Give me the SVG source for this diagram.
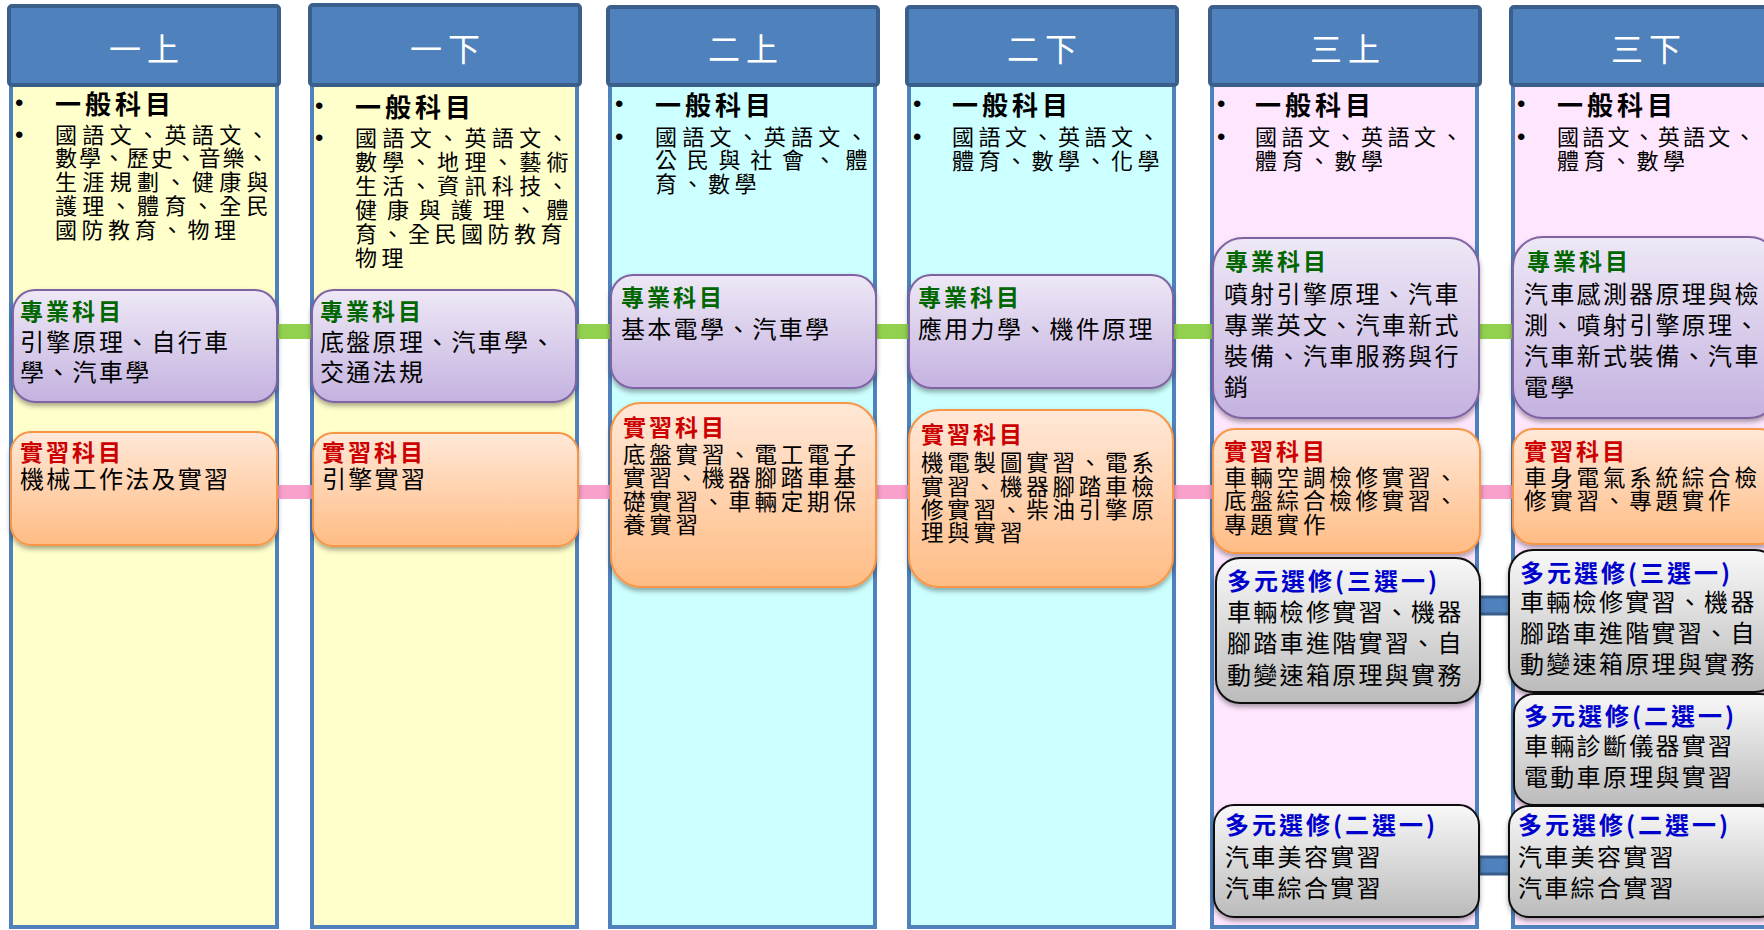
<svg xmlns="http://www.w3.org/2000/svg" width="1764" height="930" viewBox="0 0 1764 930">
<style>
text{font-family:"Noto Sans CJK TC","Noto Sans CJK SC",sans-serif;}
.hd{fill:#4F81BD;stroke:#3A5F8B;stroke-width:4}
.ht{fill:#fff;font-size:32px;letter-spacing:6px;text-anchor:middle}
.body{stroke:#4F81BD;stroke-width:4}
.y{fill:#FFFFCC}.c{fill:#CCFFFF}.p{fill:#FFE6FF}
.bul{font-family:"Liberation Sans",sans-serif;font-size:24px;fill:#000}
.gh{font-size:26px;font-weight:bold;letter-spacing:4px;fill:#000}
.gt{font-size:22px;letter-spacing:4.5px;fill:#000}
.pb{fill:url(#gp);stroke:#8064A2;stroke-width:2}
.ob{fill:url(#go);stroke:#F79646;stroke-width:2}
.xb{fill:url(#gg);stroke:#111;stroke-width:2}
.tg{font-size:23px;font-weight:bold;letter-spacing:3px;fill:#006600}
.tr{font-size:23px;font-weight:bold;letter-spacing:3px;fill:#CC0000}
.tb{font-size:24px;font-weight:bold;letter-spacing:3px;fill:#0000CC}
.bt{font-size:24px;letter-spacing:2.3px;fill:#000}
.bs{font-size:22.5px;letter-spacing:3.8px;fill:#000}
.cg{fill:#92D050}.cp{fill:#F9A0CB}.cb{fill:#4F81BD;stroke:#385D8A;stroke-width:3}
</style>
<defs>
<linearGradient id="gp" x1="0" y1="0" x2="0" y2="1"><stop offset="0" stop-color="#EEE8F6"/><stop offset="1" stop-color="#C4B2E0"/></linearGradient>
<linearGradient id="go" x1="0" y1="0" x2="0" y2="1"><stop offset="0" stop-color="#FFE8D8"/><stop offset="1" stop-color="#FFBC84"/></linearGradient>
<linearGradient id="gg" x1="0" y1="0" x2="0" y2="1"><stop offset="0" stop-color="#F8F8F8"/><stop offset="1" stop-color="#BBBBBB"/></linearGradient>
<filter id="sh" x="-10%" y="-10%" width="120%" height="130%"><feDropShadow dx="0" dy="3" stdDeviation="2.5" flood-color="#000" flood-opacity="0.35"/></filter>
</defs>
<rect width="1764" height="930" fill="#fff"/>

<g id="col1">
<rect class="body y" x="11" y="85" width="266" height="842"/>
<rect class="hd" x="9" y="6" width="270" height="79" rx="3"/>
<text class="ht" x="147" y="61">一上</text>
<text class="bul" x="15" y="111">•</text>
<text class="gh" x="55" y="114">一般科目</text>
<text class="bul" x="15" y="143">•</text>
<text class="gt" x="55" y="143" textLength="218" lengthAdjust="spacing">國語文、英語文、</text>
<text class="gt" x="55" y="166" textLength="218" lengthAdjust="spacing">數學、歷史、音樂、</text>
<text class="gt" x="55" y="190" textLength="218" lengthAdjust="spacing">生涯規劃、健康與</text>
<text class="gt" x="55" y="214" textLength="218" lengthAdjust="spacing">護理、體育、全民</text>
<text class="gt" x="55" y="238">國防教育、物理</text>
</g>

<g id="col2">
<rect class="body y" x="312" y="85" width="265" height="842"/>
<rect class="hd" x="310" y="5" width="270" height="80" rx="3"/>
<text class="ht" x="448" y="61">一下</text>
<text class="bul" x="315" y="114">•</text>
<text class="gh" x="355" y="117">一般科目</text>
<text class="bul" x="315" y="146">•</text>
<text class="gt" x="355" y="146" textLength="218" lengthAdjust="spacing">國語文、英語文、</text>
<text class="gt" x="355" y="170" textLength="218" lengthAdjust="spacing">數學、地理、藝術</text>
<text class="gt" x="355" y="194" textLength="218" lengthAdjust="spacing">生活、資訊科技、</text>
<text class="gt" x="355" y="218" textLength="218" lengthAdjust="spacing">健康與護理、體</text>
<text class="gt" x="355" y="242">育、全民國防教育</text>
<text class="gt" x="355" y="266">物理</text>
</g>

<g id="col3">
<rect class="body c" x="610" y="85" width="265" height="842"/>
<rect class="hd" x="608" y="7" width="270" height="78" rx="3"/>
<text class="ht" x="746" y="61">二上</text>
<text class="bul" x="615" y="112">•</text>
<text class="gh" x="655" y="115">一般科目</text>
<text class="bul" x="615" y="145">•</text>
<text class="gt" x="655" y="145" textLength="217" lengthAdjust="spacing">國語文、英語文、</text>
<text class="gt" x="655" y="168" textLength="217" lengthAdjust="spacing">公民與社會、體</text>
<text class="gt" x="655" y="192">育、數學</text>
</g>

<g id="col4">
<rect class="body c" x="909" y="85" width="265" height="842"/>
<rect class="hd" x="907" y="7" width="270" height="78" rx="3"/>
<text class="ht" x="1045" y="61">二下</text>
<text class="bul" x="913" y="112">•</text>
<text class="gh" x="952" y="115">一般科目</text>
<text class="bul" x="913" y="145">•</text>
<text class="gt" x="952" y="145">國語文、英語文、</text>
<text class="gt" x="952" y="169">體育、數學、化學</text>
</g>

<g id="col5">
<rect class="body p" x="1212" y="85" width="265" height="842"/>
<rect class="hd" x="1210" y="7" width="270" height="78" rx="3"/>
<text class="ht" x="1348" y="61">三上</text>
<text class="bul" x="1217" y="112">•</text>
<text class="gh" x="1255" y="115">一般科目</text>
<text class="bul" x="1217" y="145">•</text>
<text class="gt" x="1255" y="145">國語文、英語文、</text>
<text class="gt" x="1255" y="169">體育、數學</text>
</g>

<g id="col6">
<rect class="body p" x="1513" y="85" width="266" height="842"/>
<rect class="hd" x="1511" y="7" width="270" height="78" rx="3"/>
<text class="ht" x="1649" y="61">三下</text>
<text class="bul" x="1517" y="112">•</text>
<text class="gh" x="1557" y="115">一般科目</text>
<text class="bul" x="1517" y="145">•</text>
<text class="gt" x="1557" y="145" textLength="203" lengthAdjust="spacing">國語文、英語文、</text>
<text class="gt" x="1557" y="169">體育、數學</text>
</g>

<g id="connectors">
<rect class="cg" x="276" y="324" width="37" height="15"/>
<rect class="cg" x="575" y="324" width="37" height="15"/>
<rect class="cg" x="875" y="324" width="35" height="15"/>
<rect class="cg" x="1172" y="324" width="42" height="15"/>
<rect class="cg" x="1478" y="324" width="36" height="15"/>
<rect class="cp" x="276" y="485" width="38" height="14"/>
<rect class="cp" x="577" y="485" width="35" height="14"/>
<rect class="cp" x="875" y="485" width="35" height="14"/>
<rect class="cp" x="1172" y="485" width="42" height="14"/>
<rect class="cp" x="1479" y="485" width="35" height="14"/>
<rect class="cb" x="1479" y="597" width="31" height="17"/>
<rect class="cb" x="1479" y="857" width="31" height="17"/>
</g>

<g id="p1"><rect class="pb" filter="url(#sh)" x="13" y="290" width="264" height="112" rx="22"/>
<text class="tg" x="20" y="320">專業科目</text>
<text class="bt" x="20" y="351">引擎原理、自行車</text>
<text class="bt" x="20" y="381">學、汽車學</text></g>
<g id="o1"><rect class="ob" filter="url(#sh)" x="11" y="432" width="266" height="113" rx="20"/>
<text class="tr" x="20" y="461">實習科目</text>
<text class="bt" x="20" y="488">機械工作法及實習</text></g>

<g id="p2"><rect class="pb" filter="url(#sh)" x="312" y="290" width="264" height="112" rx="22"/>
<text class="tg" x="320" y="320">專業科目</text>
<text class="bt" x="320" y="351">底盤原理、汽車學、</text>
<text class="bt" x="320" y="381">交通法規</text></g>
<g id="o2"><rect class="ob" filter="url(#sh)" x="313" y="433" width="265" height="113" rx="20"/>
<text class="tr" x="322" y="461">實習科目</text>
<text class="bt" x="322" y="488">引擎實習</text></g>

<g id="p3"><rect class="pb" filter="url(#sh)" x="611" y="275" width="265" height="113" rx="22"/>
<text class="tg" x="621" y="306">專業科目</text>
<text class="bt" x="621" y="338">基本電學、汽車學</text></g>
<g id="o3"><rect class="ob" filter="url(#sh)" x="611" y="403" width="265" height="184" rx="30"/>
<text class="tr" x="623" y="436">實習科目</text>
<text class="bs" x="623" y="463">底盤實習、電工電子</text>
<text class="bs" x="623" y="486">實習、機器腳踏車基</text>
<text class="bs" x="623" y="510">礎實習、車輛定期保</text>
<text class="bs" x="623" y="533">養實習</text></g>

<g id="p4"><rect class="pb" filter="url(#sh)" x="909" y="275" width="264" height="113" rx="22"/>
<text class="tg" x="918" y="306">專業科目</text>
<text class="bt" x="918" y="338">應用力學、機件原理</text></g>
<g id="o4"><rect class="ob" filter="url(#sh)" x="909" y="410" width="264" height="177" rx="30"/>
<text class="tr" x="921" y="443">實習科目</text>
<text class="bs" x="921" y="471">機電製圖實習、電系</text>
<text class="bs" x="921" y="495">實習、機器腳踏車檢</text>
<text class="bs" x="921" y="518">修實習、柴油引擎原</text>
<text class="bs" x="921" y="541">理與實習</text></g>

<g id="p5"><rect class="pb" filter="url(#sh)" x="1213" y="238" width="266" height="180" rx="30"/>
<text class="tg" x="1225" y="270">專業科目</text>
<text class="bt" x="1224" y="303">噴射引擎原理、汽車</text>
<text class="bt" x="1224" y="334">專業英文、汽車新式</text>
<text class="bt" x="1224" y="365">裝備、汽車服務與行</text>
<text class="bt" x="1224" y="396">銷</text></g>
<g id="o5"><rect class="ob" filter="url(#sh)" x="1213" y="429" width="267" height="124" rx="22"/>
<text class="tr" x="1224" y="460">實習科目</text>
<text class="bs" x="1224" y="486">車輛空調檢修實習、</text>
<text class="bs" x="1224" y="509">底盤綜合檢修實習、</text>
<text class="bs" x="1224" y="533">專題實作</text></g>
<g id="e5a"><rect class="xb" filter="url(#sh)" x="1216" y="558" width="264" height="145" rx="24"/>
<text class="tb" x="1227" y="590">多元選修(三選一)</text>
<text class="bt" x="1227" y="621">車輛檢修實習、機器</text>
<text class="bt" x="1227" y="652">腳踏車進階實習、自</text>
<text class="bt" x="1227" y="684">動變速箱原理與實務</text></g>
<g id="e5b"><rect class="xb" filter="url(#sh)" x="1214" y="805" width="265" height="112" rx="20"/>
<text class="tb" x="1225" y="834">多元選修(二選一)</text>
<text class="bt" x="1225" y="866">汽車美容實習</text>
<text class="bt" x="1225" y="897">汽車綜合實習</text></g>

<g id="p6"><rect class="pb" filter="url(#sh)" x="1513" y="237" width="266" height="181" rx="30"/>
<text class="tg" x="1527" y="270">專業科目</text>
<text class="bt" x="1524" y="303">汽車感測器原理與檢</text>
<text class="bt" x="1524" y="334">測、噴射引擎原理、</text>
<text class="bt" x="1524" y="365">汽車新式裝備、汽車</text>
<text class="bt" x="1524" y="396">電學</text></g>
<g id="o6"><rect class="ob" filter="url(#sh)" x="1513" y="429" width="266" height="115" rx="20"/>
<text class="tr" x="1524" y="460">實習科目</text>
<text class="bs" x="1524" y="486">車身電氣系統綜合檢</text>
<text class="bs" x="1524" y="509">修實習、專題實作</text></g>
<g id="e6a"><rect class="xb" filter="url(#sh)" x="1509" y="550" width="270" height="142" rx="24"/>
<text class="tb" x="1520" y="582">多元選修(三選一)</text>
<text class="bt" x="1520" y="611">車輛檢修實習、機器</text>
<text class="bt" x="1520" y="642">腳踏車進階實習、自</text>
<text class="bt" x="1520" y="673">動變速箱原理與實務</text></g>
<g id="e6b"><rect class="xb" filter="url(#sh)" x="1514" y="694" width="266" height="111" rx="20"/>
<text class="tb" x="1524" y="725">多元選修(二選一)</text>
<text class="bt" x="1524" y="755">車輛診斷儀器實習</text>
<text class="bt" x="1524" y="786">電動車原理與實習</text></g>
<g id="e6c"><rect class="xb" filter="url(#sh)" x="1509" y="806" width="270" height="111" rx="20"/>
<text class="tb" x="1518" y="834">多元選修(二選一)</text>
<text class="bt" x="1518" y="866">汽車美容實習</text>
<text class="bt" x="1518" y="897">汽車綜合實習</text></g>
</svg>
